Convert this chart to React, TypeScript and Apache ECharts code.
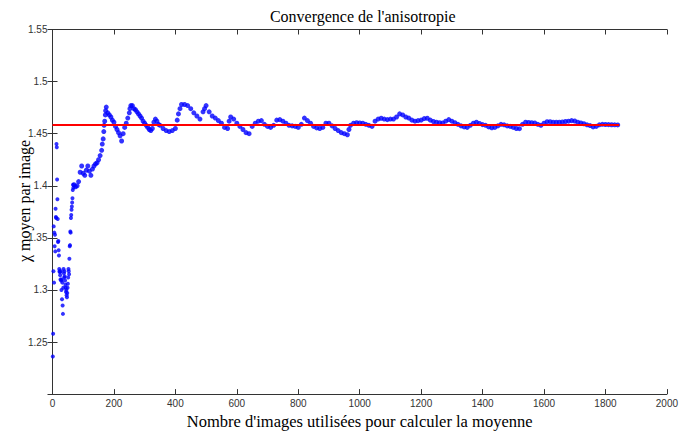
import React, { useEffect, useRef } from "react";
import * as echarts from "echarts";

// Early individual running-average values (image count, value)
const earlyImages = [1,2,3,4,5,6,7,8,9,10,11,12,13,14,15,16,17,18,19,20,21,22,23,24,25,26,27,28,29,30,31,32,33,34,35,36,37,38,39,40,41,42,43,44,45,46,47,48,49,50,51,52,53,54,55,56,57,58,59,60,61,62,63,64,65,66,67,68];
const earlyValues = [1.236,1.258,1.318,1.361,1.307,1.355,1.342,1.353,1.337,1.378,1.370,1.369,1.440,1.437,1.406,1.387,1.368,1.346,1.347,1.338,1.333,1.320,1.318,1.317,1.314,1.310,1.318,1.309,1.300,1.310,1.291,1.307,1.285,1.277,1.302,1.320,1.316,1.312,1.318,1.313,1.309,1.305,1.302,1.298,1.300,1.295,1.293,1.297,1.302,1.306,1.312,1.320,1.318,1.315,1.330,1.342,1.343,1.356,1.355,1.369,1.372,1.377,1.380,1.384,1.388,1.396,1.401,1.398];

// Segment A: images 70..345 every 5
const segAStart = 70;
const segAStep = 5;
const segAValues = [1.401,1.399,1.400,1.404,1.413,1.419,1.412,1.410,1.415,1.419,1.414,1.410,1.416,1.419,1.421,1.422,1.425,1.429,1.434,1.445,1.462,1.4755,1.470,1.468,1.466,1.463,1.461,1.457,1.454,1.451,1.448,1.443,1.450,1.456,1.460,1.465,1.470,1.477,1.477,1.474,1.473,1.471,1.469,1.467,1.465,1.462,1.460,1.458,1.456,1.454,1.453,1.455,1.461,1.464,1.462,1.459];

// Segment B: images 350..1840 every 10
const segBStart = 350;
const segBStep = 10;
const segBValues = [
  1.458,1.455,1.453,1.452,1.453,1.455,1.469,1.478,1.478,1.477,
  1.474,1.470,1.467,1.464,1.471,1.477,1.471,1.467,1.465,1.4625,
  1.460,1.456,1.455,1.466,1.464,1.460,1.457,1.454,1.451,1.450,
  1.457,1.460,1.462,1.4625,1.459,1.457,1.456,1.458,1.463,1.4635,
  1.462,1.460,1.458,1.4575,1.457,1.456,1.459,1.465,1.4625,1.460,
  1.457,1.4555,1.455,1.456,1.460,1.460,1.4575,1.455,1.453,1.451,
  1.450,1.449,1.458,1.460,1.4605,1.4603,1.460,1.459,1.458,1.457,
  1.462,1.464,1.4648,1.464,1.4635,1.464,1.464,1.466,1.469,1.468,
  1.466,1.465,1.463,1.462,1.4625,1.463,1.4645,1.4648,1.463,1.4617,
  1.461,1.4605,1.4603,1.462,1.4635,1.462,1.4605,1.459,1.4575,1.4565,
  1.456,1.458,1.460,1.461,1.4598,1.4587,1.458,1.4565,1.4556,1.456,
  1.4575,1.459,1.4585,1.4575,1.457,1.456,1.455,1.4548,1.459,1.461,
  1.4607,1.4605,1.4603,1.459,1.458,1.460,1.4615,1.4615,1.461,1.461,
  1.461,1.4612,1.4617,1.462,1.4625,1.4622,1.461,1.4603,1.4595,1.4585,
  1.4578,1.4565,1.457,1.4585,1.459,1.4588,1.4587,1.4586,1.4585,1.4584
];

// Extra points on steep jumps
const extraImages = [162,167,168,172,173,252,406,415,495,575,965];
const extraValues = [1.440,1.452,1.458,1.468,1.472,1.474,1.463,1.474,1.474,1.462,1.454];

// Final mean (red line)
const meanValue = 1.4584;
const meanStart = 0;
const meanEnd = 1845;

const xTicksMax = 2000;
const yMin = 1.2;
const yMax = 1.55;

const titleText = "Convergence de l'anisotropie";
const xName = "Nombre d'images utilisées pour calculer la moyenne";
const yName = "χ moyen par image";

export default function App() {
  const ref = useRef<HTMLDivElement>(null);
  useEffect(() => {
    if (!ref.current) return;
    const chart = echarts.init(ref.current, null, { renderer: "svg" });
    const earlyPts: number[][] = [];
    earlyImages.forEach((x, i) => earlyPts.push([x, earlyValues[i]]));
    const pts: number[][] = [];
    segAValues.forEach((v, i) => pts.push([segAStart + i * segAStep, v]));
    segBValues.forEach((v, i) => pts.push([segBStart + i * segBStep, v]));
    extraImages.forEach((x, i) => pts.push([x, extraValues[i]]));

    const L = 52.5, R = 673, T = 29.5, B = 398;
    const serif = "Liberation Serif, Times New Roman, serif";
    const sans = "Liberation Sans, Arial, sans-serif";
    const axisLineStyle = { color: "#333", width: 1 };
    const fmtY = (v: number) => (Math.abs(v - 1.2) < 1e-6 ? "" : String(parseFloat(v.toFixed(2))));
    const fmtX = (v: number) => String(Math.round(v));

    chart.setOption({
      animation: false,
      backgroundColor: "#fff",
      grid: { left: L, right: 681 - R, top: T, bottom: 435 - B, containLabel: false },
      xAxis: [
        {
          type: "value", min: 0, max: xTicksMax, interval: 200,
          axisLine: { show: true, lineStyle: axisLineStyle },
          axisTick: { show: true, inside: true, length: 5, lineStyle: axisLineStyle },
          axisLabel: { color: "#333", fontSize: 10, fontFamily: sans, margin: 4, formatter: fmtX },
          splitLine: { show: false },
          name: xName, nameLocation: "middle", nameGap: 17,
          nameTextStyle: { fontFamily: serif, fontSize: 16.5, color: "#000" },
        },
        {
          type: "value", position: "top", min: 0, max: xTicksMax, interval: 200,
          axisLine: { show: true, lineStyle: axisLineStyle },
          axisTick: { show: true, inside: true, length: 5, lineStyle: axisLineStyle },
          axisLabel: { show: false }, splitLine: { show: false },
        },
      ],
      yAxis: [
        {
          type: "value", min: yMin, max: yMax, interval: 0.05,
          axisLine: { show: true, lineStyle: axisLineStyle },
          axisTick: { show: true, inside: true, length: 5, lineStyle: axisLineStyle },
          axisLabel: { color: "#333", fontSize: 10, fontFamily: sans, margin: 5, formatter: fmtY },
          splitLine: { show: false },
        },
        {
          type: "value", position: "right", min: yMin, max: yMax, interval: 0.05,
          axisLine: { show: true, lineStyle: axisLineStyle },
          axisTick: { show: true, inside: true, length: 5, lineStyle: axisLineStyle },
          axisLabel: { show: false }, splitLine: { show: false },
        },
      ],
      graphic: [
        {
          type: "text", x: (L + R) / 2, y: 16,
          style: { text: titleText, font: `16px ${serif}`, fill: "#000", textAlign: "center", textVerticalAlign: "middle" },
        },
        {
          type: "text", x: 24, y: 201, rotation: Math.PI / 2,
          style: { text: yName, font: `16px ${serif}`, fill: "#000", textAlign: "center", textVerticalAlign: "middle" },
        },
      ],
      series: [
        {
          type: "scatter", xAxisIndex: 0, yAxisIndex: 0, data: earlyPts,
          symbol: "circle", symbolSize: 4,
          itemStyle: { color: "#0000ff" }, z: 2,
        },
        {
          type: "scatter", xAxisIndex: 0, yAxisIndex: 0, data: pts,
          symbol: "circle", symbolSize: 5,
          itemStyle: { color: "#0000ff" }, z: 2,
        },
        {
          type: "line", xAxisIndex: 0, yAxisIndex: 0,
          data: [[meanStart, meanValue], [meanEnd, meanValue]],
          showSymbol: false, symbol: "none",
          lineStyle: { color: "#ff0000", width: 2 }, z: 3,
        },
      ],
    });
    return () => chart.dispose();
  }, []);
  return <div ref={ref} style={{ position: "fixed", left: 0, top: 0, width: 681, height: 435 }} />;
}
